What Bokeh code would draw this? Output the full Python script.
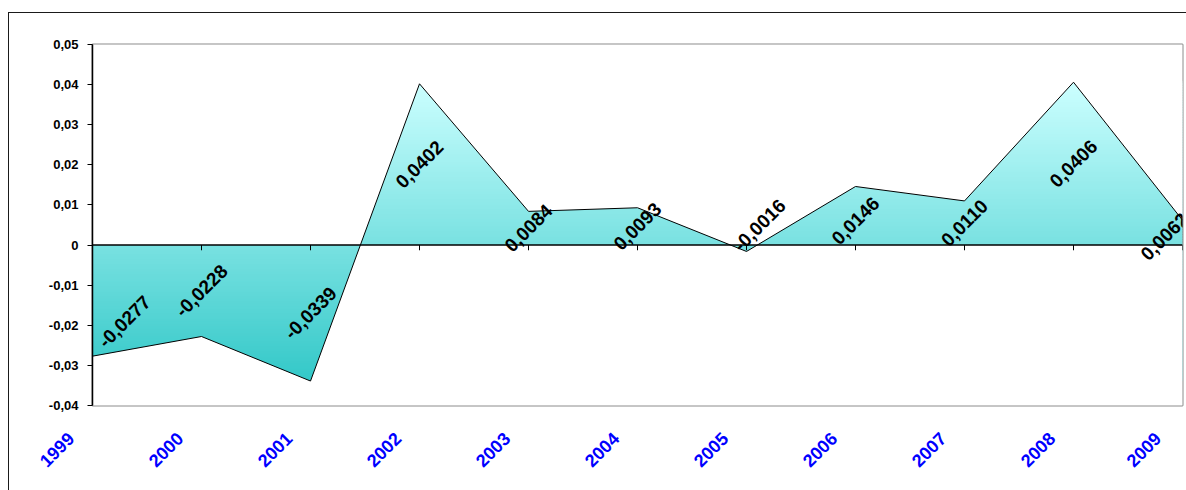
import math
import numpy as np
from bokeh.plotting import figure
from bokeh.models import (Range1d, FixedTicker, CustomJSTickFormatter,
                          ColumnDataSource, InlineStyleSheet)
from bokeh.core.properties import value
from bokeh.embed import file_html
from bokeh.resources import INLINE

# ---- data ----
years = [1999, 2000, 2001, 2002, 2003, 2004, 2005, 2006, 2007, 2008, 2009]
values = [-0.0277, -0.0228, -0.0339, 0.0402, 0.0084, 0.0093, -0.0016, 0.0146, 0.0110, 0.0406, 0.0062]
y_ticks = [-0.04, -0.03, -0.02, -0.01, 0.0, 0.01, 0.02, 0.03, 0.04, 0.05]
year_labels = [str(y) for y in years]

# label nudges (screen px) for labels pushed inside the plot edges / off the axis
label_dx = [32, 0, 0, 0, 0, 0, 13, 0, 0, 0, -18]
label_dy = [21, 0, 0, 0, 0, 0, -23, 5, 0, 0, 4]

FONT = "Liberation Sans"

p = figure(width=1186, height=490,
           x_range=Range1d(years[0], years[-1]), y_range=Range1d(-0.04, 0.05),
           output_backend="svg", toolbar_location=None,
           min_border_left=92, min_border_right=4, min_border_top=44, min_border_bottom=85)
p.background_fill_color = "white"
p.border_fill_color = "white"
p.xgrid.visible = False
p.ygrid.visible = False
p.outline_line_color = "#8c8c8c"
p.outline_line_width = 2

# ---- gradient fill (bands under white masks) ----
vmin, vmax = min(values), max(values)
n_bands = 120
edges = np.linspace(vmin, vmax, n_bands + 1)
c_top = np.array([0xCC, 0xFF, 0xFF])
c_bot = np.array([0x33, 0xC8, 0xC8])
band_colors = []
for i in range(n_bands):
    t = (i + 0.5) / n_bands
    c = c_bot + (c_top - c_bot) * t
    band_colors.append("#%02x%02x%02x" % tuple(int(round(v)) for v in c))
step = edges[1] - edges[0]
p.quad(left=years[0], right=years[-1], bottom=edges[:-1], top=edges[:-1] + step * 1.6,
       fill_color=band_colors, line_color=None)

# polyline including zero crossings
xs, ys = [], []
for i in range(len(years)):
    xs.append(years[i]); ys.append(values[i])
    if i < len(years) - 1 and values[i] * values[i + 1] < 0:
        v0, v1 = values[i], values[i + 1]
        xs.append(years[i] + v0 / (v0 - v1)); ys.append(0.0)
xs = [xs[0] - 0.5] + xs + [xs[-1] + 0.5]
ys = [ys[0]] + ys + [ys[-1]]
xs = np.array(xs, dtype=float); ys = np.array(ys, dtype=float)
upper = np.maximum(ys, 0); lower = np.minimum(ys, 0)
p.varea(x=xs, y1=upper, y2=0.06, fill_color="white")
p.varea(x=xs, y1=-0.05, y2=lower, fill_color="white")

# series outline
p.line(years, values, line_color="black", line_width=1)

# zero axis with category ticks
p.line([years[0], years[-1]], [0, 0], line_color="black", line_width=1.5)
p.segment(x0=years, y0=[0] * len(years), x1=years, y1=[-0.0013] * len(years),
          line_color="black", line_width=1)

# data labels
lab_src = ColumnDataSource(dict(
    x=years, y=[v / 2 for v in values],
    t=[("%.4f" % v).replace(".", ",") for v in values],
    dx=label_dx, dy=label_dy))
p.text(x="x", y="y", text="t", source=lab_src, angle=math.pi / 4,
       text_align="center", text_baseline="middle", x_offset="dx", y_offset="dy",
       text_font=value(FONT), text_font_style="bold", text_font_size="19px",
       text_color="black")

# ---- y axis ----
p.yaxis.ticker = FixedTicker(ticks=y_ticks)
p.yaxis.formatter = CustomJSTickFormatter(
    code="if (Math.abs(tick) < 1e-9) return '0'; return tick.toFixed(2).replace('.', ',');")
p.yaxis.minor_tick_line_color = None
p.yaxis.major_tick_in = 0
p.yaxis.major_tick_out = 5
p.yaxis.major_tick_line_color = "black"
p.yaxis.axis_line_color = "black"
p.yaxis.axis_line_width = 1.5
p.yaxis.major_label_text_font = FONT
p.yaxis.major_label_text_font_style = "bold"
p.yaxis.major_label_text_font_size = "13px"
p.yaxis.major_label_text_color = "black"
p.yaxis.major_label_standoff = 9

# ---- x (category) labels: trailing figure spaces pull each slanted label left of its tick ----
p.xaxis.ticker = FixedTicker(ticks=years)
p.xaxis.formatter = CustomJSTickFormatter(
    args=dict(y0=years[0], labels=year_labels),
    code="const i = Math.round(tick - y0); return labels[i] + '\\u2007\\u2007\\u2007';")
p.xaxis.axis_line_color = None
p.xaxis.major_tick_line_color = None
p.xaxis.minor_tick_line_color = None
p.xaxis.major_label_orientation = math.pi / 4
p.xaxis.major_label_text_font = FONT
p.xaxis.major_label_text_font_style = "bold"
p.xaxis.major_label_text_font_size = "18px"
p.xaxis.major_label_text_color = "#0000ff"
p.xaxis.major_label_standoff = 3

# outer chart border (left and top edges are visible in the window)
p.stylesheets = [InlineStyleSheet(css=(
    ":host::after { content: ''; position: absolute; left: 8px; top: 12px; "
    "right: 0px; bottom: 0px; border-left: 1.5px solid #1a1a1a; "
    "border-top: 1.5px solid #1a1a1a; pointer-events: none; }"))]

open("out.html", "w").write(file_html(p, INLINE))
